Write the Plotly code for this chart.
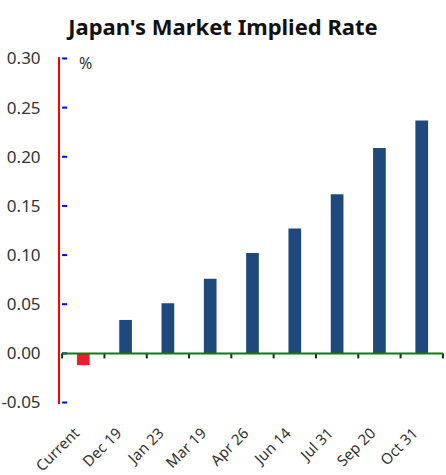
import plotly.graph_objects as go

categories = ["Current", "Dec 19", "Jan 23", "Mar 19", "Apr 26", "Jun 14", "Jul 31", "Sep 20", "Oct 31"]
values = [-0.012, 0.034, 0.051, 0.076, 0.102, 0.127, 0.162, 0.209, 0.237]
bar_colors = ["#ED1C2E"] + ["#1F497D"] * 8
y_ticks = [-0.05, 0.00, 0.05, 0.10, 0.15, 0.20, 0.25, 0.30]

positions = list(range(len(categories)))
left_edge, right_edge = -0.5, len(categories) - 0.5
tick_dx = 0.118
tick_dy = 0.0051

fig = go.Figure()
fig.add_trace(go.Bar(x=positions, y=values, marker_color=bar_colors,
                     marker_line_width=0, width=0.3))

# diagnostic: inside ticks as a trace in blue
ytx, yty = [], []
for v in y_ticks:
    ytx += [left_edge, left_edge + tick_dx, None]
    yty += [v, v, None]
fig.add_trace(go.Scatter(x=ytx, y=yty, mode="lines", line=dict(color="blue", width=2)))
# boundary ticks as a trace in dark grey
xtx, xty = [], []
for i in range(len(categories) + 1):
    b = i - 0.5
    xtx += [b, b, None]
    xty += [0, -tick_dy, None]
fig.add_trace(go.Scatter(x=xtx, y=xty, mode="lines", line=dict(color="#222222", width=2)))

font = "Noto Sans"
xpad = "\u00a0\u00a0\u00a0"
fig.update_layout(
    width=446, height=475,
    margin=dict(l=60, r=1, t=57, b=71),
    paper_bgcolor="white", plot_bgcolor="white",
    showlegend=False,
    font=dict(family=font, color="#333333", size=16),
    title=dict(text="<b>Japan's Market Implied Rate</b>", x=0.5, xref="container",
               xanchor="center", y=1 - 27 / 475, yanchor="middle", yref="container",
               font=dict(family=font, size=22, color="#111111")),
    xaxis=dict(range=[left_edge - 0.05, right_edge + 0.05],
               tickvals=positions, ticktext=[c + xpad for c in categories],
               showline=False, showgrid=False, zeroline=False,
               ticks="outside", ticklen=5, tickcolor="rgba(0,0,0,0)",
               tickangle=-45, tickfont=dict(size=15, color="#333333")),
    yaxis=dict(range=[y_ticks[0] - 0.0015, y_ticks[-1] + 0.0015], tickvals=y_ticks,
               ticktext=[f"{v:.2f}" for v in y_ticks],
               showline=True, linecolor="red", linewidth=2,
               showgrid=False, zeroline=False,
               ticks="outside", ticklen=14, tickcolor="rgba(0,0,0,0)",
               tickfont=dict(size=17, color="#333333")),
)
# diagnostic: zero line as a shape in green
fig.add_shape(type="line", xref="x", yref="y", x0=left_edge, x1=right_edge, y0=0, y1=0,
              line=dict(color="green", width=2))

fig.add_annotation(text="%", xref="paper", yref="y", x=0.065, y=0.295,
                   showarrow=False, xanchor="center", yanchor="middle",
                   font=dict(family=font, size=16, color="#333333"))

fig.write_html("out.html")
